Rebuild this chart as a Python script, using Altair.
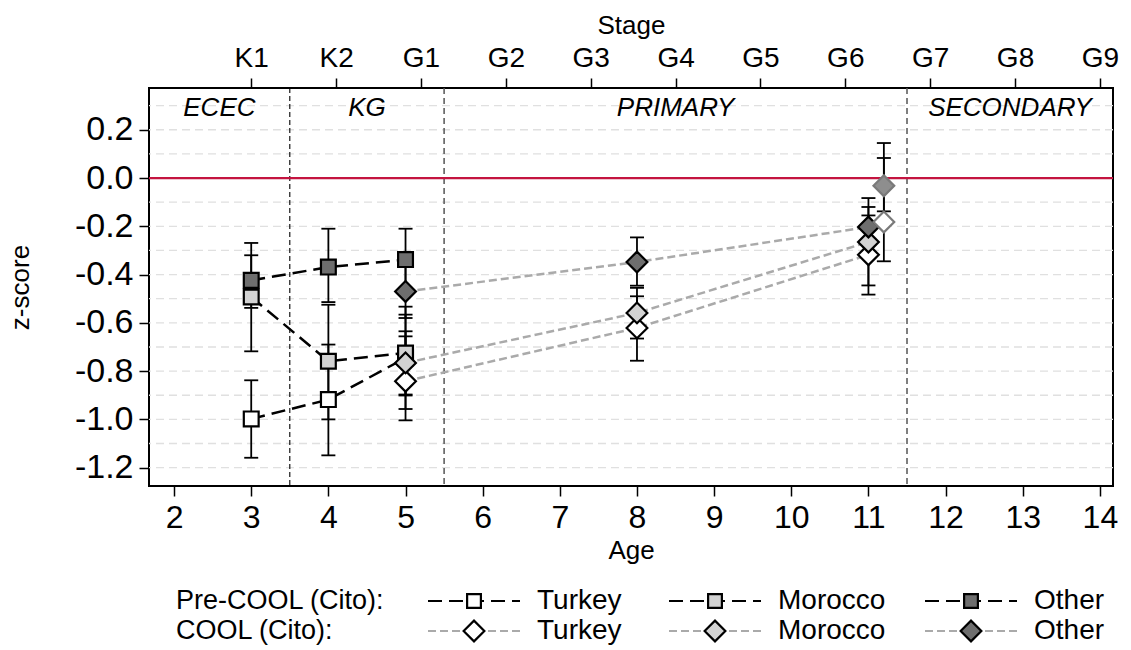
import altair as alt
import pandas as pd

# ---------------- data ----------------
COUNTRIES = ["Turkey", "Morocco", "Other"]

AGES_PRE = [3, 4, 5]
PRE_TURKEY = [-0.998, -0.918, -0.745]
PRE_TURKEY_LO = [-1.159, -1.149, -0.957]
PRE_TURKEY_HI = [-0.838, -0.690, -0.533]
PRE_MOROCCO = [-0.493, -0.759, -0.725]
PRE_MOROCCO_LO = [-0.718, -1.000, -0.901]
PRE_MOROCCO_HI = [-0.269, -0.525, -0.566]
PRE_OTHER = [-0.424, -0.369, -0.338]
PRE_OTHER_LO = [-0.538, -0.514, -0.466]
PRE_OTHER_HI = [-0.320, -0.210, -0.210]

AGES_COOL = [5, 8, 11]
COOL_TURKEY = [-0.842, -0.621, -0.318]
COOL_TURKEY_LO = [-1.004, -0.757, -0.483]
COOL_TURKEY_HI = [-0.656, -0.490, -0.155]
COOL_MOROCCO = [-0.766, -0.559, -0.265]
COOL_MOROCCO_LO = [-0.897, -0.665, -0.445]
COOL_MOROCCO_HI = [-0.635, -0.455, -0.120]
COOL_OTHER = [-0.470, -0.348, -0.203]
COOL_OTHER_LO = [-0.580, -0.446, -0.323]
COOL_OTHER_HI = [-0.360, -0.246, -0.083]

EXTRA_AGE = [11.2, 11.2]
EXTRA_KIND = ["extra gray", "extra white"]
EXTRA_MEAN = [-0.032, -0.182]
EXTRA_LO = [-0.138, -0.345]
EXTRA_HI = [0.145, 0.083]

AGE_TICKS = [2, 3, 4, 5, 6, 7, 8, 9, 10, 11, 12, 13, 14]
STAGE_LABELS = ["K1", "K2", "G1", "G2", "G3", "G4", "G5", "G6", "G7", "G8", "G9"]
STAGE_POS = [3.0, 4.1, 5.2, 6.3, 7.4, 8.5, 9.6, 10.7, 11.8, 12.9, 14.0]
Y_TICKS = [-1.2, -1.0, -0.8, -0.6, -0.4, -0.2, 0.0, 0.2]
GRID_Y = [-1.2, -1.1, -1.0, -0.9, -0.8, -0.7, -0.6, -0.5, -0.4, -0.3,
          -0.2, -0.1, 0.0, 0.1, 0.2, 0.3]

SECTION_NAMES = ["ECEC", "KG", "PRIMARY", "SECONDARY"]
SECTION_EDGES = [1.675, 3.5, 5.5, 11.5, 14.17]
SECTION_LABEL_Y = 0.29

LEG_ROW_LABELS = ["Pre-COOL (Cito):", "COOL (Cito):"]

# ---------------- styling / layout ----------------
FONT = "Liberation Sans"
FILLS = ["#FFFFFF", "#D3D3D3", "#6E6E6E"]
EXTRA_FILLS = ["#8E8E8E", "#FFFFFF"]
EXTRA_STROKE = "#7A7A7A"
PRE_DASH = [14, 7]
COOL_DASH = [8, 4]
COOL_LINE = "#AAAAAA"
SQ_SIZE = 220
DI_SIZE = 430

W, H = 964, 398
X_DOMAIN = [1.675, 14.17]
Y_DOMAIN = [-1.276, 0.373]

# legend layout (pixels, relative to plot origin)
LEG_ROW_Y = [513, 543]
LEG_LABEL_X = 27
LEG_KEY_CX = [325, 566, 822]
LEG_KEY_HALF = 46
LEG_TEXT_DX = 63

xs = alt.Scale(domain=X_DOMAIN, nice=False, zero=False)
ys = alt.Scale(domain=Y_DOMAIN, nice=False, zero=False)
fill_scale = alt.Scale(domain=COUNTRIES + EXTRA_KIND, range=FILLS + EXTRA_FILLS)


def make_df(ages, series, wave):
    rows = []
    for i, (country, (m, lo, hi)) in enumerate(zip(COUNTRIES, series)):
        for a, v, l, h in zip(ages, m, lo, hi):
            rows.append(dict(age=a, val=v, lo=l, hi=h, country=country,
                             wave=wave, ord=i))
    return pd.DataFrame(rows)


pre_df = make_df(AGES_PRE, [(PRE_TURKEY, PRE_TURKEY_LO, PRE_TURKEY_HI),
                            (PRE_MOROCCO, PRE_MOROCCO_LO, PRE_MOROCCO_HI),
                            (PRE_OTHER, PRE_OTHER_LO, PRE_OTHER_HI)], "pre")
cool_df = make_df(AGES_COOL, [(COOL_TURKEY, COOL_TURKEY_LO, COOL_TURKEY_HI),
                              (COOL_MOROCCO, COOL_MOROCCO_LO, COOL_MOROCCO_HI),
                              (COOL_OTHER, COOL_OTHER_LO, COOL_OTHER_HI)], "cool")
extra_df = pd.DataFrame(dict(age=EXTRA_AGE, val=EXTRA_MEAN, lo=EXTRA_LO,
                             hi=EXTRA_HI, country=EXTRA_KIND))
err_df = pd.concat([pre_df, cool_df, extra_df], ignore_index=True)


def X(field, axis=None):
    return alt.X(field, type="quantitative", scale=xs, axis=axis)


def Y(field, axis=None):
    return alt.Y(field, type="quantitative", scale=ys, axis=axis)


def FILL():
    return alt.Fill("country:N", scale=fill_scale, legend=None)


y_axis = alt.Axis(values=Y_TICKS, orient="left", title="z-score",
                  labelExpr="replace(format(datum.value, '.1f'), '\u2212', '-')",
                  labelFontSize=34, labelPadding=6, tickSize=10,
                  titleFontSize=26, titlePadding=41)
x_axis_bottom = alt.Axis(values=AGE_TICKS, orient="bottom", title="Age",
                         format="d", labelFontSize=32, labelPadding=6,
                         tickSize=10, titleFontSize=26, titlePadding=4)
stage_expr = "[" + ",".join("'%s'" % s for s in STAGE_LABELS) + "]"
x_axis_top = alt.Axis(values=STAGE_POS, orient="top", title="Stage",
                      labelExpr=stage_expr + "[round((datum.value - 3) / 1.1)]",
                      labelFontSize=28, labelPadding=6, tickSize=10,
                      titleFontSize=26, titlePadding=6)

grid = alt.Chart(pd.DataFrame({"g": GRID_Y})).mark_rule(
    color="#E0E0E0", strokeDash=[8, 5], strokeWidth=1.3
).encode(y=Y("g", y_axis))

vline1 = alt.Chart(pd.DataFrame({"b": SECTION_EDGES[1:2]})).mark_rule(
    color="black", strokeDash=[5, 3], strokeWidth=1.1
).encode(x=X("b", x_axis_bottom))

vline2 = alt.Chart(pd.DataFrame({"b": SECTION_EDGES[2:4]})).mark_rule(
    color="#555555", strokeDash=[6, 4], strokeWidth=1.5
).encode(x=X("b", x_axis_top))

zero = alt.Chart(pd.DataFrame({"z": [0.0]})).mark_rule(
    color="#C41440", strokeWidth=2.2
).encode(y=Y("z"))

sec_df = pd.DataFrame({
    "name": SECTION_NAMES,
    "mid": [(a + b) / 2 for a, b in zip(SECTION_EDGES[:-1], SECTION_EDGES[1:])],
    "yy": [SECTION_LABEL_Y] * len(SECTION_NAMES),
})
sections = alt.Chart(sec_df).mark_text(
    font=FONT, fontSize=26, fontStyle="italic", color="black",
    align="center", baseline="middle"
).encode(x=X("mid"), y=Y("yy"), text="name:N")

err_bar = alt.Chart(err_df).mark_rule(color="black", strokeWidth=1.8).encode(
    x=X("age"), y=Y("lo"), y2="hi")
cap_lo = alt.Chart(err_df).mark_rule(color="black", strokeWidth=1.8,
                                      xOffset=-7, x2Offset=7).encode(
    x=X("age"), x2="age", y=Y("lo"))
cap_hi = alt.Chart(err_df).mark_rule(color="black", strokeWidth=1.8,
                                      xOffset=-7, x2Offset=7).encode(
    x=X("age"), x2="age", y=Y("hi"))

pre_lines = alt.Chart(pre_df).mark_line(
    color="black", strokeDash=PRE_DASH, strokeWidth=2.5
).encode(x=X("age"), y=Y("val"), detail="country:N")
cool_lines = alt.Chart(cool_df).mark_line(
    color=COOL_LINE, strokeDash=COOL_DASH, strokeWidth=2.5
).encode(x=X("age"), y=Y("val"), detail="country:N")

pre_pts = alt.Chart(pre_df).mark_point(
    shape="square", size=SQ_SIZE, stroke="black", strokeWidth=2.2,
    opacity=1, fillOpacity=1
).encode(x=X("age"), y=Y("val"), fill=FILL(), order=alt.Order("ord:Q"))
cool_pts = alt.Chart(cool_df).mark_point(
    shape="diamond", size=DI_SIZE, stroke="black", strokeWidth=2.2,
    opacity=1, fillOpacity=1
).encode(x=X("age"), y=Y("val"), fill=FILL(), order=alt.Order("ord:Q"))
extra_pts = alt.Chart(extra_df).mark_point(
    shape="diamond", size=DI_SIZE, stroke=EXTRA_STROKE, strokeWidth=2.2,
    opacity=1, fillOpacity=1
).encode(x=X("age"), y=Y("val"), fill=FILL())

# ---------------- legend (drawn below the plot) ----------------
leg_rows = []
for r, wave in enumerate(["pre", "cool"]):
    for c, country in enumerate(COUNTRIES):
        cx = LEG_KEY_CX[c]
        leg_rows.append(dict(wave=wave, country=country, y=LEG_ROW_Y[r],
                             x1=cx - LEG_KEY_HALF, x2=cx + LEG_KEY_HALF,
                             xc=cx, xt=cx + LEG_TEXT_DX))
leg_df = pd.DataFrame(leg_rows)
leg_pre = leg_df[leg_df.wave == "pre"]
leg_cool = leg_df[leg_df.wave == "cool"]
lab_df = pd.DataFrame({"label": LEG_ROW_LABELS, "y": LEG_ROW_Y,
                       "x": [LEG_LABEL_X] * 2})


def PX(f):
    return alt.X(f, type="quantitative", scale=None, axis=None)


def PY(f):
    return alt.Y(f, type="quantitative", scale=None, axis=None)


leg_line_pre = alt.Chart(leg_pre).mark_rule(
    color="black", strokeDash=PRE_DASH, strokeWidth=2.2
).encode(x=PX("x1"), x2="x2", y=PY("y"))
leg_line_cool = alt.Chart(leg_cool).mark_rule(
    color=COOL_LINE, strokeDash=COOL_DASH, strokeWidth=2.2
).encode(x=PX("x1"), x2="x2", y=PY("y"))
leg_sq = alt.Chart(leg_pre).mark_point(
    shape="square", size=SQ_SIZE - 30, stroke="black", strokeWidth=2.2,
    opacity=1, fillOpacity=1
).encode(x=PX("xc"), y=PY("y"), fill=FILL())
leg_di = alt.Chart(leg_cool).mark_point(
    shape="diamond", size=DI_SIZE, stroke="black", strokeWidth=2.2,
    opacity=1, fillOpacity=1
).encode(x=PX("xc"), y=PY("y"), fill=FILL())
leg_txt = alt.Chart(leg_df).mark_text(
    font=FONT, fontSize=28, align="left", baseline="middle", color="black"
).encode(x=PX("xt"), y=PY("y"), text="country:N")
leg_lab = alt.Chart(lab_df).mark_text(
    font=FONT, fontSize=27, align="left", baseline="middle", color="black"
).encode(x=PX("x"), y=PY("y"), text="label:N")

chart = alt.layer(
    grid, vline1, vline2, zero, sections,
    err_bar, cap_lo, cap_hi,
    pre_lines, cool_lines,
    pre_pts, cool_pts, extra_pts,
    leg_line_pre, leg_line_cool, leg_sq, leg_di, leg_txt, leg_lab,
).resolve_axis(
    x="independent", y="independent"
).properties(
    width=W, height=H,
    padding={"left": 149, "top": 88, "right": 18, "bottom": 164},
    autosize=alt.AutoSizeParams(type="none"),
).configure_view(
    stroke="black", strokeWidth=2
).configure_axis(
    domain=False, grid=False, tickColor="black", tickWidth=1.5,
    labelColor="black", titleColor="black", labelFont=FONT, titleFont=FONT,
    titleFontWeight="normal"
)

chart.save("out.html", embed_options={"renderer": "svg", "actions": False})
